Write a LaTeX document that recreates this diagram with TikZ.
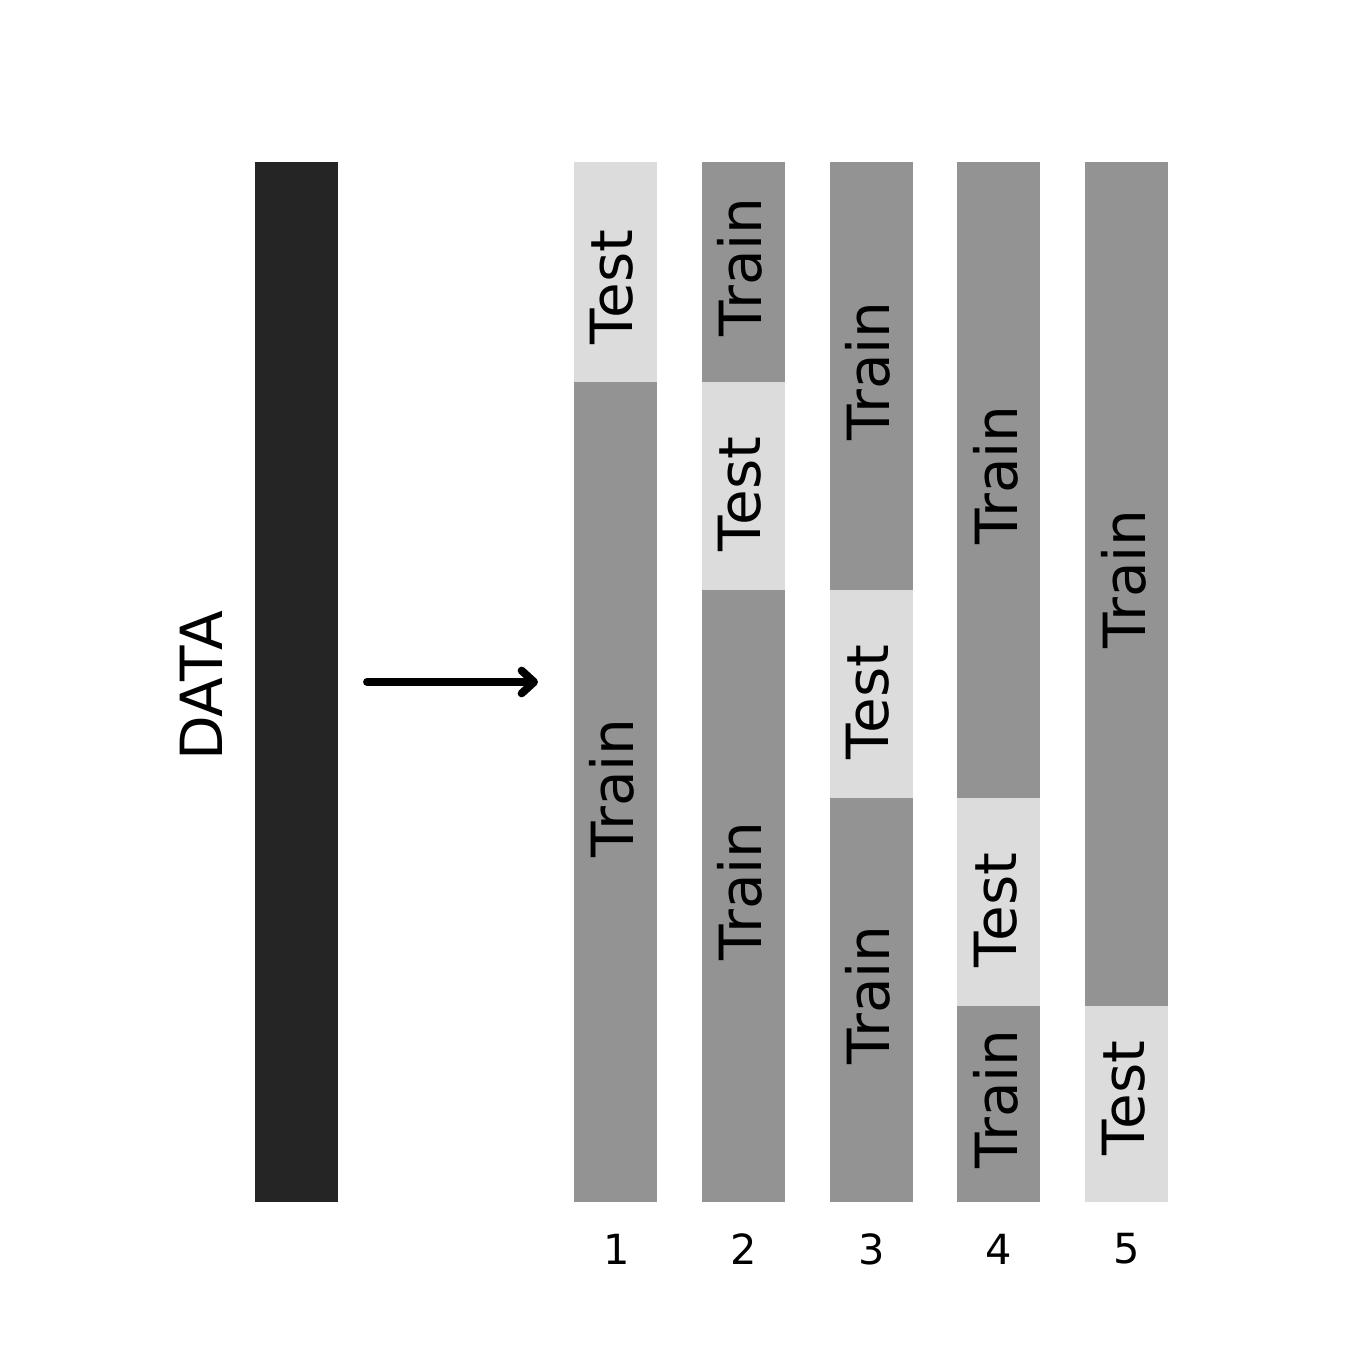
\documentclass[tikz,border=0pt]{standalone}
\usepackage{fontspec}
\setmainfont{DejaVu Sans}
\usepackage{xcolor}
\usetikzlibrary{arrows.meta}
\definecolor{datacol}{HTML}{252525}
\definecolor{traincol}{HTML}{939393}
\definecolor{testcol}{HTML}{DCDCDC}
\begin{document}
\begin{tikzpicture}[x=1in/150, y=-1in/150,
		lbl/.style={rotate=90, inner sep=0pt, anchor=center, font=\fontsize{28}{34}\selectfont},
		num/.style={inner sep=0pt, anchor=center, font=\fontsize{20}{24}\selectfont},
		foldarrow/.style={line width=3.8pt, line cap=round, -{Straight Barb[length=6pt, width=11pt, line cap=round, line join=round]}}]
				% Frame:
				\useasboundingbox (0, 0) rectangle (1350, 1350);
				\fill[white] (0, 0) rectangle (1350, 1350);
				% Data bar:
				\fill[datacol] (255, 162) rectangle (338, 1202);
				\node[lbl](D1) at (201, 686){DATA};
				% Arrow:
				\coordinate (A1) at (367, 682);
				\coordinate (A2) at (538, 682);
				\draw[foldarrow] (A1) -- (A2);
				% Fold 1:
				\fill[testcol] (574, 162) rectangle (657, 382);
				\fill[traincol] (574, 382) rectangle (657, 1202);
				\node[lbl](F1a) at (612, 287){Test};
				\node[lbl](F1b) at (612, 788){Train};
				\node[num](N1) at (617, 1249){1};
				% Fold 2:
				\fill[traincol] (702, 162) rectangle (785, 382);
				\fill[testcol] (702, 382) rectangle (785, 590);
				\fill[traincol] (702, 590) rectangle (785, 1202);
				\node[lbl](F2a) at (740, 267){Train};
				\node[lbl](F2b) at (740, 494){Test};
				\node[lbl](F2c) at (740, 891){Train};
				\node[num](N2) at (744, 1249){2};
				% Fold 3:
				\fill[traincol] (830, 162) rectangle (913, 590);
				\fill[testcol] (830, 590) rectangle (913, 798);
				\fill[traincol] (830, 798) rectangle (913, 1202);
				\node[lbl](F3a) at (868, 371){Train};
				\node[lbl](F3b) at (868, 702){Test};
				\node[lbl](F3c) at (868, 995){Train};
				\node[num](N3) at (872, 1249){3};
				% Fold 4:
				\fill[traincol] (957, 162) rectangle (1040, 798);
				\fill[testcol] (957, 798) rectangle (1040, 1006);
				\fill[traincol] (957, 1006) rectangle (1040, 1202);
				\node[lbl](F4a) at (996, 475){Train};
				\node[lbl](F4b) at (996, 910){Test};
				\node[lbl](F4c) at (996, 1099){Train};
				\node[num](N4) at (999, 1249){4};
				% Fold 5:
				\fill[traincol] (1085, 162) rectangle (1168, 1006);
				\fill[testcol] (1085, 1006) rectangle (1168, 1202);
				\node[lbl](F5a) at (1124, 579){Train};
				\node[lbl](F5b) at (1124, 1098){Test};
				\node[num](N5) at (1127, 1249){5};
			\end{tikzpicture}
\end{document}
